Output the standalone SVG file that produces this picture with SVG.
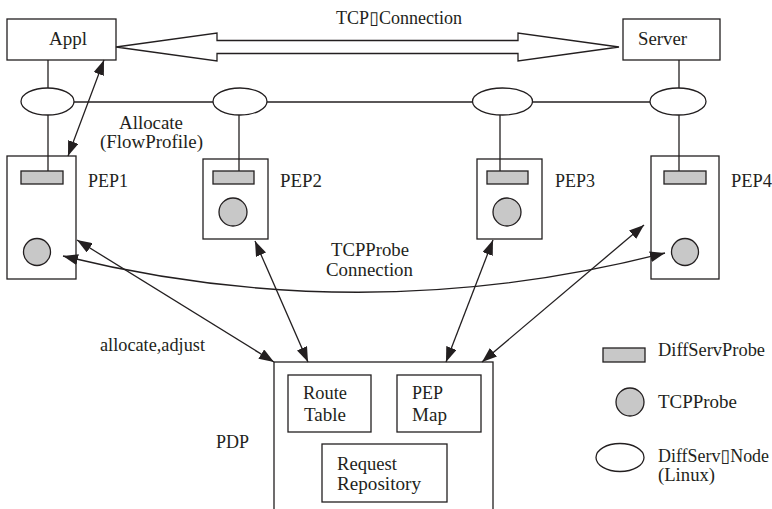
<svg xmlns="http://www.w3.org/2000/svg" width="772" height="509" viewBox="0 0 772 509">
<style>
.box{fill:#fff;stroke:#231f20;stroke-width:1.3}
.probe{fill:#c8c8c8;stroke:#231f20;stroke-width:1.3}
.node{fill:#fff;stroke:#231f20;stroke-width:1.3}
.ln{fill:none;stroke:#231f20;stroke-width:1.3}
.ar{fill:none;stroke:#231f20;stroke-width:1.3;marker-start:url(#ah);marker-end:url(#ah)}
text{font-size:18px;fill:#231f20}
</style>
<defs>
<marker id="ah" viewBox="0 0 15 11" refX="15" refY="5.5" markerWidth="15" markerHeight="11" markerUnits="userSpaceOnUse" orient="auto-start-reverse">
<path d="M0,0 L15,5.5 L0,11 z" fill="#231f20"/>
</marker>
</defs>
<rect width="772" height="509" fill="#fff"/>

<g font-family="'Liberation Serif', 'Times New Roman', 'DejaVu Serif', serif">
<g id="appl">
<rect class="box" x="7" y="19" width="109" height="41"/>
<text x="49" y="45" textLength="38" lengthAdjust="spacingAndGlyphs">Appl</text>
</g>
<g id="server">
<rect class="box" x="623" y="19" width="97" height="41"/>
<text x="638" y="45" textLength="49" lengthAdjust="spacingAndGlyphs">Server</text>
</g>
<text id="tcp-label" x="336" y="24" textLength="126" lengthAdjust="spacingAndGlyphs">TCP▯Connection</text>

<g id="node1"><ellipse class="node" cx="47.5" cy="101.5" rx="26.5" ry="13.5"/></g>
<g id="node2"><ellipse class="node" cx="240" cy="101.5" rx="27" ry="13.5"/></g>
<g id="node3"><ellipse class="node" cx="502.5" cy="101.5" rx="30" ry="13.5"/></g>
<g id="node4"><ellipse class="node" cx="678" cy="101.5" rx="28" ry="13.5"/></g>

<g id="allocate-label">
<text x="119" y="129" textLength="64" lengthAdjust="spacingAndGlyphs">Allocate</text>
<text x="100" y="148" textLength="103" lengthAdjust="spacingAndGlyphs">(FlowProfile)</text>
</g>

<g id="pep1">
<rect class="box" x="7" y="156" width="69" height="123"/>
<rect class="probe" x="21" y="171" width="42" height="13"/>
<circle class="probe" cx="37" cy="252" r="13.5"/>
<text x="88" y="187" textLength="40" lengthAdjust="spacingAndGlyphs">PEP1</text>
</g>
<g id="pep2">
<rect class="box" x="203" y="159" width="65" height="80"/>
<rect class="probe" x="213" y="171" width="41" height="13"/>
<circle class="probe" cx="233" cy="212" r="14"/>
<text x="280" y="187" textLength="42" lengthAdjust="spacingAndGlyphs">PEP2</text>
</g>
<g id="pep3">
<rect class="box" x="477" y="159" width="65" height="80"/>
<rect class="probe" x="487" y="171" width="41" height="13"/>
<circle class="probe" cx="507" cy="212" r="14"/>
<text x="555" y="187" textLength="40" lengthAdjust="spacingAndGlyphs">PEP3</text>
</g>
<g id="pep4">
<rect class="box" x="651" y="156" width="68" height="123"/>
<rect class="probe" x="664" y="171" width="42" height="13"/>
<circle class="probe" cx="685" cy="252" r="13.5"/>
<text x="731" y="187" textLength="41" lengthAdjust="spacingAndGlyphs">PEP4</text>
</g>

<g id="tcpprobe-label">
<text x="331" y="256" textLength="78" lengthAdjust="spacingAndGlyphs">TCPProbe</text>
<text x="326" y="276" textLength="87" lengthAdjust="spacingAndGlyphs">Connection</text>
</g>
<text id="allocate-adjust" x="100" y="351" textLength="105" lengthAdjust="spacingAndGlyphs">allocate,adjust</text>

<g id="pdp">
<rect class="box" x="274" y="362" width="219" height="160"/>
<text x="216" y="448" textLength="33" lengthAdjust="spacingAndGlyphs">PDP</text>
</g>
<g id="route-table">
<rect class="box" x="288" y="375" width="83" height="57"/>
<text x="303" y="399" textLength="44" lengthAdjust="spacingAndGlyphs">Route</text>
<text x="304" y="421" textLength="42" lengthAdjust="spacingAndGlyphs">Table</text>
</g>
<g id="pep-map">
<rect class="box" x="397" y="375" width="84" height="57"/>
<text x="412" y="399" textLength="31" lengthAdjust="spacingAndGlyphs">PEP</text>
<text x="412" y="421" textLength="35" lengthAdjust="spacingAndGlyphs">Map</text>
</g>
<g id="request-repository">
<rect class="box" x="322" y="444" width="125" height="58"/>
<text x="337" y="470" textLength="60" lengthAdjust="spacingAndGlyphs">Request</text>
<text x="337" y="490" textLength="84" lengthAdjust="spacingAndGlyphs">Repository</text>
</g>

<g id="legend">
<rect class="probe" x="603" y="348" width="42" height="14"/>
<text x="658" y="356" textLength="107" lengthAdjust="spacingAndGlyphs">DiffServProbe</text>
<circle class="probe" cx="630" cy="402" r="14"/>
<text x="658" y="408" textLength="79" lengthAdjust="spacingAndGlyphs">TCPProbe</text>
<ellipse class="node" cx="620" cy="457.5" rx="24" ry="14"/>
<text x="658" y="462" textLength="111" lengthAdjust="spacingAndGlyphs">DiffServ▯Node</text>
<text x="658" y="481" textLength="57" lengthAdjust="spacingAndGlyphs">(Linux)</text>
</g>
</g>

<g id="connectors">
<polygon class="ln" points="116,47 217,33 217,40.5 518,40.5 518,33 619,47 518,61 518,53.5 217,53.5 217,61"/>
<line class="ln" x1="74" y1="102" x2="213" y2="102"/>
<line class="ln" x1="267" y1="102" x2="472.5" y2="102"/>
<line class="ln" x1="532.5" y1="102" x2="650" y2="102"/>
<line class="ln" x1="48" y1="60" x2="48" y2="88"/>
<line class="ln" x1="48" y1="115" x2="48" y2="171"/>
<line class="ln" x1="239" y1="115" x2="239" y2="171"/>
<line class="ln" x1="500" y1="115" x2="500" y2="171"/>
<line class="ln" x1="679" y1="60" x2="679" y2="88"/>
<line class="ln" x1="679" y1="115" x2="679" y2="171"/>
<line class="ar" x1="68" y1="156" x2="104" y2="60"/>
<line class="ar" x1="77" y1="240" x2="274" y2="362"/>
<line class="ar" x1="255" y1="241" x2="308" y2="362"/>
<line class="ar" x1="493" y1="240" x2="446" y2="362"/>
<line class="ar" x1="644" y1="225" x2="482" y2="362"/>
<path class="ar" d="M63,256 Q364,330 665,253"/>
</g>
</svg>
